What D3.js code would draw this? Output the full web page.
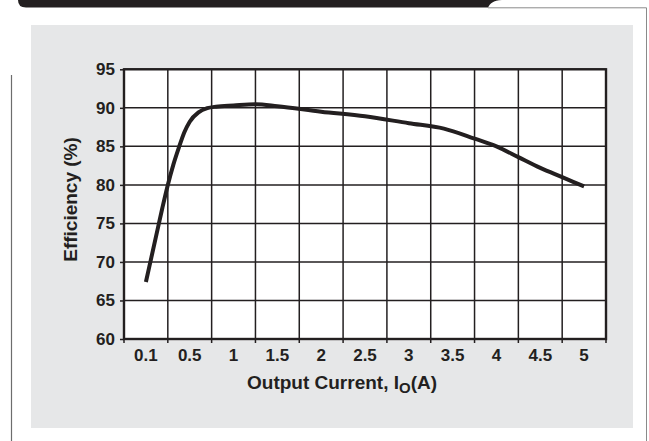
<!DOCTYPE html>
<html>
<head>
<meta charset="utf-8">
<script src="https://cdn.jsdelivr.net/npm/d3@7"></script>
<style>
  html, body { margin: 0; padding: 0; background: #ffffff; }
  svg { display: block; font-family: "Liberation Sans", Arial, sans-serif; font-weight: bold; }
</style>
</head>
<body>
<svg id="chart" width="649" height="441"></svg>
<script>
// ---- data ----
const xLabels = ["0.1", "0.5", "1", "1.5", "2", "2.5", "3", "3.5", "4", "4.5", "5"];
const yTicks = [60, 65, 70, 75, 80, 85, 90, 95];
const current = [0.1, 0.15, 0.2, 0.25, 0.3, 0.35, 0.4, 0.45, 0.5, 0.6, 0.7, 0.8, 1.0, 1.25, 1.5, 2.0, 2.5, 3.0, 3.4, 3.75, 4.0, 4.25, 4.5, 4.75, 5.0];
const efficiency = [67.4, 70.6, 73.8, 77.0, 80.0, 82.6, 84.8, 86.8, 88.2, 89.4, 89.95, 90.15, 90.3, 90.45, 90.2, 89.5, 88.9, 88.0, 87.3, 86.0, 85.0, 83.6, 82.2, 81.0, 79.8];
const yTitle = "Efficiency (%)";

const svg = d3.select("#chart");
const ink = "#231f20";

// ---- decorative frame ----
svg.append("path")
  .attr("d", "M18,0 H502 C493,0 490,4 488,7.5 H26 Q18,7.5 18,0 Z")
  .attr("fill", ink);
svg.append("path")
  .attr("d", "M488,7.8 H646.5 V441")
  .attr("fill", "none").attr("stroke", "#8a8a8a").attr("stroke-width", 1);
svg.append("line")
  .attr("x1", 11.5).attr("x2", 11.5).attr("y1", 75).attr("y2", 441)
  .attr("stroke", "#6d6d6d").attr("stroke-width", 1.2);
svg.append("rect")
  .attr("x", 31).attr("y", 25).attr("width", 602).attr("height", 403)
  .attr("fill", "#e6e7e8");

// ---- scales ----
const pLeft = 124, pRight = 606, pTop = 69.3, pBottom = 339;
const xb = d3.scaleBand().domain(xLabels).range([pLeft, pRight]).paddingInner(0).paddingOuter(0);
const bw = xb.bandwidth();
const x = d3.scaleLinear()
  .domain([0.1, 0.5, 5])
  .range([xb("0.1") + bw / 2, xb("0.5") + bw / 2, xb("5") + bw / 2]);
const y = d3.scaleLinear().domain([60, 95]).range([pBottom, pTop]);

// plot background
svg.append("rect")
  .attr("x", pLeft).attr("y", pTop).attr("width", pRight - pLeft).attr("height", pBottom - pTop)
  .attr("fill", "#ffffff");

// grid lines
const edges = xLabels.map(d => xb(d)).concat([xb(xLabels[xLabels.length - 1]) + bw]);
svg.append("g").selectAll("line").data(edges).join("line")
  .attr("x1", d => d).attr("x2", d => d).attr("y1", pTop).attr("y2", pBottom + 4)
  .attr("stroke", ink).attr("stroke-width", 1.5);
svg.append("g").selectAll("line").data(yTicks).join("line")
  .attr("x1", pLeft).attr("x2", pRight).attr("y1", d => y(d)).attr("y2", d => y(d))
  .attr("stroke", ink).attr("stroke-width", 1.5);

// frame
svg.append("rect")
  .attr("x", pLeft).attr("y", pTop).attr("width", pRight - pLeft).attr("height", pBottom - pTop)
  .attr("fill", "none").attr("stroke", ink).attr("stroke-width", 2.4);

// y axis
const yAxis = svg.append("g").attr("transform", `translate(${pLeft},0)`)
  .call(d3.axisLeft(y).tickValues(yTicks).tickSize(4).tickPadding(5).tickFormat(d3.format("d")));
yAxis.select(".domain").remove();
yAxis.selectAll(".tick line").attr("stroke", ink).attr("stroke-width", 1.5);
yAxis.selectAll(".tick text").attr("fill", ink).style("font-size", "17px").style("font-weight", "bold")
  .style("font-family", '"Liberation Sans", Arial, sans-serif');

// x axis labels (centered in cells)
const xAxis = svg.append("g").attr("transform", `translate(0,${pBottom})`)
  .call(d3.axisBottom(xb).tickSize(0).tickPadding(0));
xAxis.select(".domain").remove();
xAxis.selectAll(".tick text").attr("fill", ink).attr("y", 21.5).attr("dy", 0)
  .style("font-size", "17px").style("font-weight", "bold")
  .style("font-family", '"Liberation Sans", Arial, sans-serif');

// curve
const pts = current.map((c, i) => [c, efficiency[i]]);
svg.append("path")
  .datum(pts)
  .attr("d", d3.line().x(d => x(d[0])).y(d => y(d[1])).curve(d3.curveMonotoneX))
  .attr("fill", "none").attr("stroke", ink).attr("stroke-width", 4)
  .attr("stroke-linejoin", "round");

// axis titles
const xt = svg.append("text")
  .attr("x", 247).attr("y", 389)
  .attr("fill", ink).style("font-size", "19px");
xt.append("tspan").text("Output Current, I");
xt.append("tspan").attr("dy", 4).style("font-size", "15px").text("O");
xt.append("tspan").attr("dy", -4).text("(A)");

svg.append("text")
  .attr("transform", "translate(77,199.5) rotate(-90)")
  .attr("text-anchor", "middle")
  .attr("fill", ink).style("font-size", "19px")
  .text(yTitle);
</script>
</body>
</html>
